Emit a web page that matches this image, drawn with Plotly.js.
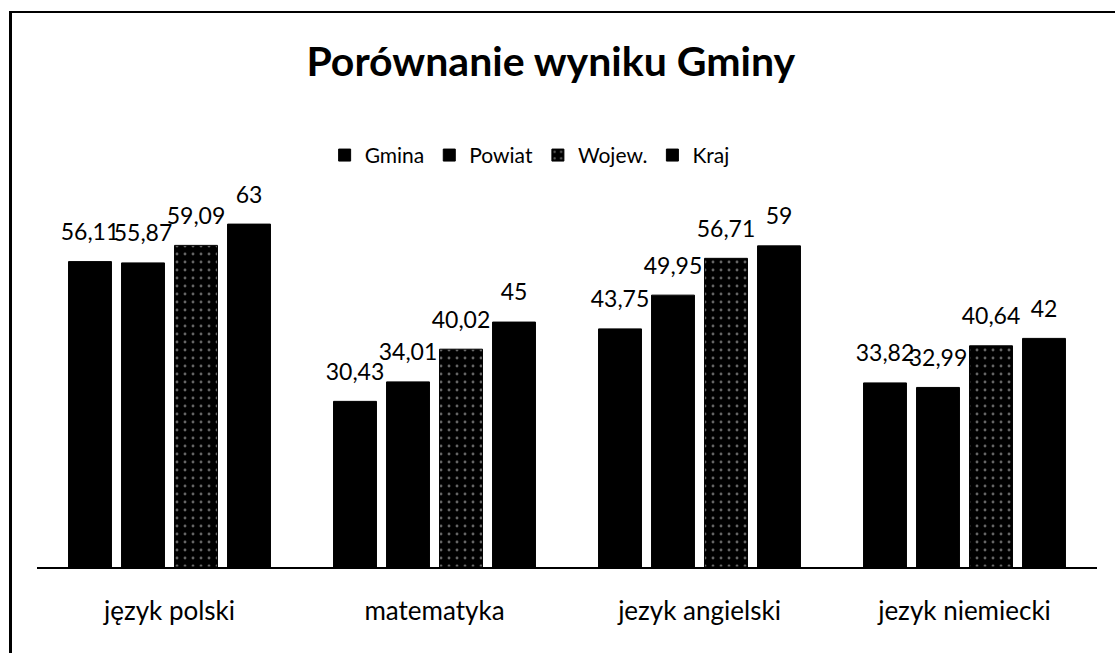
<!DOCTYPE html>
<html>
<head>
<meta charset="utf-8">
<script src="https://cdn.plot.ly/plotly-3.0.1.min.js"></script>
<style>
  body { margin: 0; background: #fff; }
  #wrap { position: relative; width: 1115px; height: 653px; }
  #plot { width: 1115px; height: 653px; }
  #frame { position: absolute; left: 9px; top: 11px; width: 1106px; height: 642px;
           border-left: 3px solid #000; border-top: 2px solid #000; pointer-events: none; }
</style>
</head>
<body>
<div id="wrap">
  <div id="plot"></div>
  <div id="frame"></div>
</div>
<script>
const subjects = ['język polski', 'matematyka', 'jezyk angielski', 'jezyk niemiecki'];
const gmina = [56.11, 30.43, 43.75, 33.82];
const powiat = [55.87, 34.01, 49.95, 32.99];
const wojew = [59.09, 40.02, 56.71, 40.64];
const kraj = [63, 45, 59, 42];

function label(vals) {
    return vals.map(v => String(v).replace('.', ','));
}

function bar(name, vals, speckled) {
    const marker = { color: '#000', line: { color: '#000', width: 1 } };
    if (speckled) {
        marker.pattern = { shape: '.', fgcolor: '#666', bgcolor: '#000', size: 8, solidity: 0.1 };
    }
    return {
        type: 'bar',
        name: name,
        x: subjects,
        y: vals,
        text: label(vals),
        // small empty second line lifts the label a bit above the bar, like the original
        texttemplate: '<span style="font-size:23px">%{text}</span><br>\u00a0',
        textposition: 'outside',
        constraintext: 'none',
        cliponaxis: false,
        textfont: { family: 'Lato, sans-serif', size: 12, color: '#000' },
        marker: marker,
        hoverinfo: 'skip'
    };
}

const data = [
    bar('Gmina', gmina, false),
    bar('Powiat', powiat, false),
    bar('Wojew.', wojew, true),
    bar('Kraj', kraj, false)
];

const layout = {
    width: 1115,
    height: 653,
    margin: { l: 37, r: 18, t: 186, b: 86 },
    paper_bgcolor: '#fff',
    plot_bgcolor: '#fff',
    font: { family: 'Lato, sans-serif', color: '#000' },
    title: {
        text: '<b>Porównanie wyniku Gminy</b>',
        font: { family: 'Lato, sans-serif', size: 41, color: '#000' },
        x: 0.494, xanchor: 'center',
        y: 0.905, yanchor: 'middle', yref: 'container'
    },
    barmode: 'group',
    bargap: 0.2,
    bargroupgap: 0.19,
    showlegend: true,
    legend: {
        orientation: 'h',
        x: 0.475, xanchor: 'center', xref: 'container',
        y: 0.762, yanchor: 'middle', yref: 'container',
        font: { size: 21, color: '#000' },
        itemwidth: 30,
        traceorder: 'normal'
    },
    xaxis: {
        showline: true,
        linecolor: '#000',
        linewidth: 2,
        ticks: '',
        showgrid: false,
        tickfont: { size: 26, color: '#000' },
        ticklabelstandoff: 20
    },
    yaxis: {
        range: [0, 70],
        visible: false,
        showgrid: false,
        zeroline: false
    }
};

Plotly.newPlot('plot', data, layout, { displayModeBar: false, staticPlot: true });
</script>
</body>
</html>
